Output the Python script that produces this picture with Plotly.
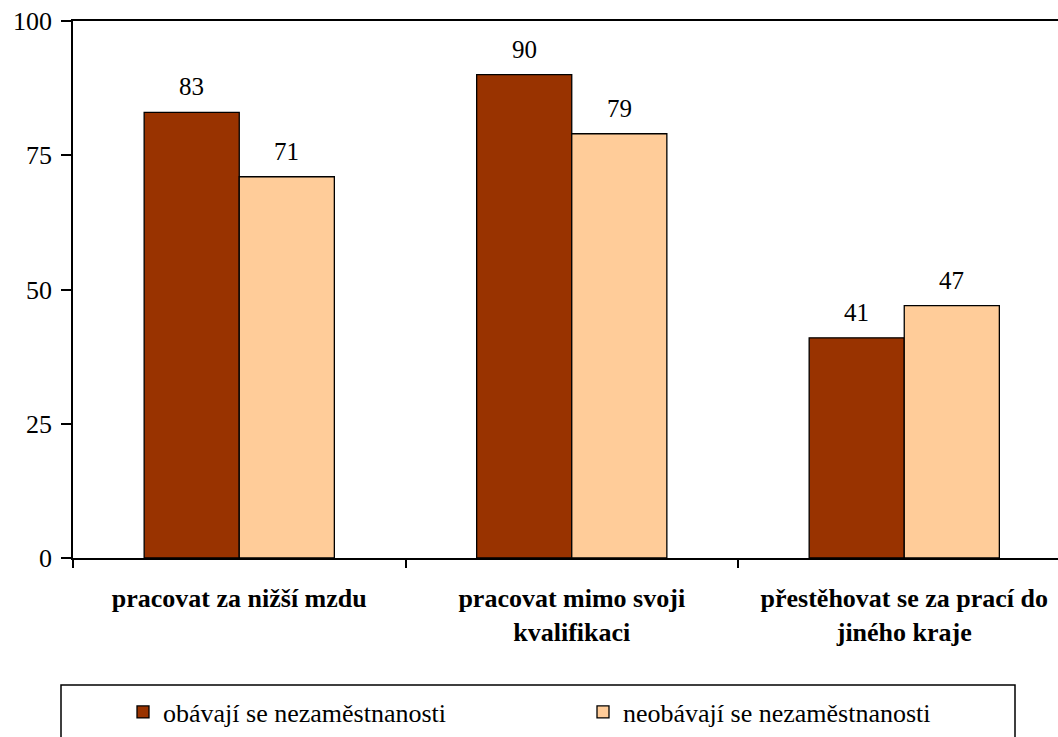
import plotly.graph_objects as go

categories = ["pracovat za nižší mzdu", "pracovat mimo svoji<br>kvalifikaci", "přestěhovat se za prací do<br>jiného kraje"]
series_names = ["obávají se nezaměstnanosti", "neobávají se nezaměstnanosti"]
values_afraid = [83, 90, 41]
values_not_afraid = [71, 79, 47]
colors = ["#993300", "#FFCC99"]
y_ticks = [0, 25, 50, 75, 100]

font_family = "Times New Roman"
BARGAP = 0.428

fig = go.Figure()
for name, vals, col in zip(series_names, [values_afraid, values_not_afraid], colors):
    fig.add_trace(go.Bar(
        name=name, x=categories, y=vals,
        marker=dict(color=col, line=dict(color="black", width=1.3)),
        cliponaxis=False,
    ))

# value labels above each bar (centre of each bar within its group)
bar_w = (1 - BARGAP) / 2
annotations = []
for s, vals in enumerate([values_afraid, values_not_afraid]):
    off = (s - 0.5) * bar_w
    for i, v in enumerate(vals):
        annotations.append(dict(x=i + off, y=v, xref="x", yref="y", text=str(v),
                                showarrow=False, yanchor="bottom", yshift=10,
                                font=dict(family=font_family, size=25, color="black")))

W, H = 1058, 737
ml, mt, mb = 73, 21, 179
pw = W - ml
ph = H - mt - mb
cat_px = 332.5

def px_x(p):
    return (p - ml) / pw

def px_y(p):
    return (H - mb - p) / ph

fig.update_layout(
    width=W, height=H,
    margin=dict(l=ml, r=0, t=mt, b=mb, pad=0),
    paper_bgcolor="white", plot_bgcolor="white",
    barmode="group", bargap=BARGAP, bargroupgap=0,
    font=dict(family=font_family, size=26, color="black"),
    showlegend=True,
    legend=dict(orientation="h", x=px_x(123), xanchor="left", y=px_y(712), yanchor="middle",
                font=dict(family=font_family, size=26, color="black"),
                entrywidth=415, bgcolor="rgba(0,0,0,0)", traceorder="normal"),
    xaxis=dict(type="category", range=[-0.5, -0.5 + pw / cat_px], tickson="boundaries",
               ticks="outside", ticklen=8, tickwidth=1.5, tickcolor="black",
               showline=True, linecolor="black", linewidth=1.5, mirror=True,
               showgrid=False, tickfont=dict(family=font_family, size=26, color="black", weight="bold"),
               ticklabelstandoff=16, ticklabeloverflow="allow"),
    yaxis=dict(range=[0, 100], tickvals=y_ticks, ticks="outside", ticklen=10, tickwidth=1.5,
               tickcolor="black", showline=True, linecolor="black", linewidth=1.5,
               showgrid=False, zeroline=False, ticklabelstandoff=4, ticklabeloverflow="allow",
               tickfont=dict(family=font_family, size=26, color="black")),
    annotations=annotations,
    shapes=[dict(type="rect", xref="paper", yref="paper",
                 x0=px_x(61), x1=px_x(1015), y0=px_y(685), y1=px_y(760),
                 line=dict(color="black", width=1.5), fillcolor="rgba(0,0,0,0)")],
)

fig.write_html("out.html", config={"displayModeBar": False},
               post_script="document.body.style.margin='0';document.body.style.overflow='hidden';")
